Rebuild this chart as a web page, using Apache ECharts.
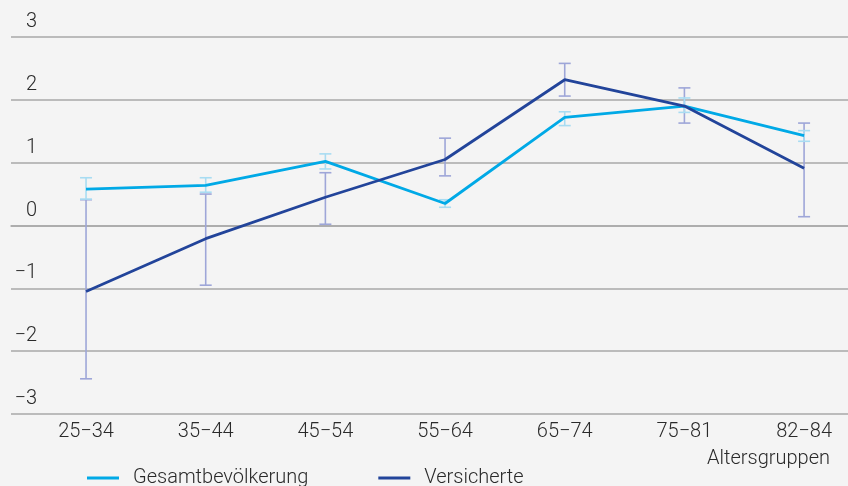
<!DOCTYPE html>
<html><head><meta charset="utf-8">
<script src="https://cdn.jsdelivr.net/npm/echarts@6/dist/echarts.min.js"></script>
<style>html,body{margin:0;padding:0;background:#f4f4f4}#c{width:848px;height:486px}</style>
</head><body><div id="c"></div>
<script>
const categories = ['25\u221234','35\u221244','45\u221254','55\u221264','65\u221274','75\u221281','82\u221284'];
const yTicks = [-3,-2,-1,0,1,2,3];
const gesamt      = [0.58, 0.64, 1.02, 0.35, 1.72, 1.90, 1.43];
const gesamtLow   = [0.42, 0.53, 0.90, 0.29, 1.59, 1.80, 1.34];
const gesamtHigh  = [0.76, 0.76, 1.14, 0.41, 1.81, 2.03, 1.51];
const versicherte     = [-1.05, -0.21, 0.45, 1.05, 2.32, 1.90, 0.91];
const versicherteLow  = [-2.44, -0.95, 0.02, 0.79, 2.06, 1.63, 0.14];
const versicherteHigh = [0.41, 0.50, 0.84, 1.39, 2.58, 2.19, 1.63];

const FONT = 'Roboto';
const TXT = '#2a2a2a';
const FS = 20;
const C1 = '#00a9e6', C2 = '#22449a';
const E1 = '#a8dcf2', E2 = '#9ea6d8';

function errData(lo, hi){ return categories.map((c,i)=>[i, lo[i], hi[i]]); }
function errSeries(lo, hi, color, z){
  return {
    type:'custom', z:z, silent:true,
    data: errData(lo, hi),
    renderItem: function(params, api){
      const x = api.value(0);
      const p1 = api.coord([x, api.value(1)]);
      const p2 = api.coord([x, api.value(2)]);
      const w = 6;
      const st = {stroke:color, lineWidth:1.6};
      return {type:'group', children:[
        {type:'line', shape:{x1:p1[0],y1:p1[1],x2:p2[0],y2:p2[1]}, style:st},
        {type:'line', shape:{x1:p1[0]-w,y1:p1[1],x2:p1[0]+w,y2:p1[1]}, style:st},
        {type:'line', shape:{x1:p2[0]-w,y1:p2[1],x2:p2[0]+w,y2:p2[1]}, style:st}
      ]};
    }
  };
}

const chart = echarts.init(document.getElementById('c'), null, {renderer:'canvas'});
chart.setOption({
  backgroundColor:'#f4f4f4',
  animation:false,
  textStyle:{fontFamily:FONT},
  grid:{left:11, right:0, top:37, bottom:72, containLabel:false},
  xAxis:{
    type:'value', min:-0.627, max:6.367,
    axisLine:{show:true, lineStyle:{color:'#a9a9a9', width:1.5}},
    axisTick:{show:false},
    splitLine:{show:false},
    axisLabel:{
      customValues:[0,1,2,3,4,5,6],
      formatter:function(v){ return categories[Math.round(v)] || ''; },
      color:TXT, fontSize:FS, fontFamily:FONT, fontWeight:300, margin:8
    }
  },
  yAxis:{
    type:'value', min:-3, max:3, interval:1,
    axisLine:{show:false}, axisTick:{show:false},
    splitLine:{show:true, lineStyle:{color:'#a9a9a9', width:1.5}},
    axisLabel:{
      formatter:function(v){ return v < 0 ? '\u2212' + Math.abs(v) : String(v); },
      color:TXT, fontSize:FS, fontFamily:FONT, fontWeight:300,
      margin:-26, align:'right', verticalAlign:'bottom', padding:[0,0,5,0]
    }
  },
  legend:{
    left:87, top:468, padding:0, itemWidth:32, itemHeight:3, itemGap:70,
    icon:'rect',
    textStyle:{color:TXT, fontSize:FS, fontFamily:FONT, fontWeight:300, padding:[0,0,0,9]},
    data:['Gesamtbev\u00f6lkerung','Versicherte']
  },
  graphic:[{
    type:'text', right:18, top:449,
    style:{text:'Altersgruppen', fill:TXT, fontSize:FS, fontFamily:FONT, fontWeight:300}
  }],
  series:[
    errSeries(versicherteLow, versicherteHigh, E2, 2),
    errSeries(gesamtLow, gesamtHigh, E1, 3),
    {name:'Gesamtbev\u00f6lkerung', type:'line', z:4, data:gesamt.map((v,i)=>[i,v]),
     symbol:'none', color:C1, lineStyle:{color:C1, width:2.8}},
    {name:'Versicherte', type:'line', z:5, data:versicherte.map((v,i)=>[i,v]),
     symbol:'none', color:C2, lineStyle:{color:C2, width:2.8}}
  ]
});
</script>
</body></html>
